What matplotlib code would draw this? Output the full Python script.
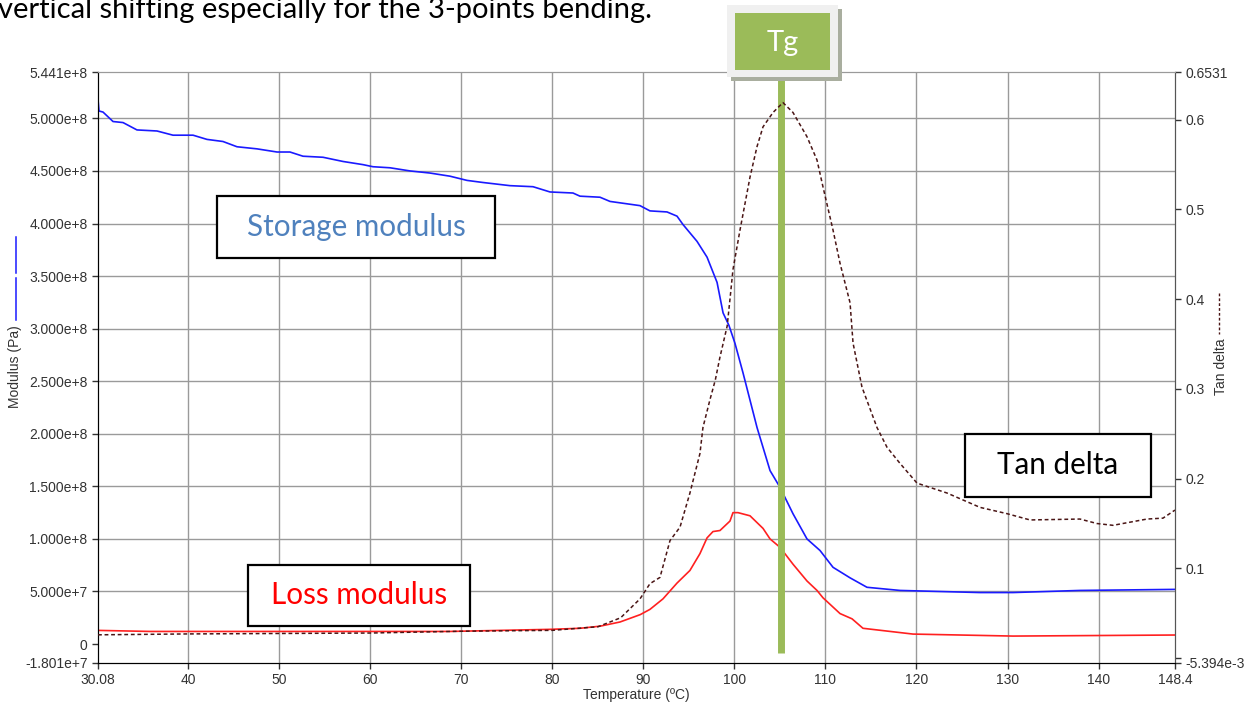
import numpy as np
import matplotlib
matplotlib.use('Agg')
import matplotlib.pyplot as plt
from matplotlib.patches import Rectangle
from matplotlib.lines import Line2D
from matplotlib.ticker import FixedLocator, FixedFormatter

#%% Data

# storage modulus (blue), 1e8 Pa
temp_storage = [30.08, 30.19, 30.63, 31.73, 32.83, 34.36, 36.56, 38.32, 40.52, 42.05,
                43.81, 45.35, 47.55, 49.75, 51.17, 52.60, 54.80, 57.00, 59.19, 60.29,
                62.16, 64.36, 66.55, 68.75, 70.62, 72.38, 75.34, 77.87, 79.74, 82.26,
                83.03, 85.23, 86.33, 89.62, 90.72, 92.59, 93.69, 94.35, 95.89, 96.99,
                98.09, 98.75, 99.40, 100.06, 100.94, 102.48, 103.91, 105.01, 106.43, 107.97,
                109.40, 110.83, 112.70, 114.56, 118.19, 126.98, 130.60, 137.96, 148.4]
storage = [5.18, 5.07, 5.06, 4.97, 4.96, 4.89, 4.88, 4.84, 4.84, 4.80,
           4.78, 4.73, 4.71, 4.68, 4.68, 4.64, 4.63, 4.59, 4.56, 4.54,
           4.53, 4.50, 4.48, 4.45, 4.41, 4.39, 4.36, 4.35, 4.30, 4.29,
           4.26, 4.25, 4.21, 4.17, 4.12, 4.11, 4.07, 3.99, 3.83, 3.68,
           3.44, 3.15, 3.03, 2.86, 2.58, 2.06, 1.65, 1.49, 1.24, 1.00,
           0.89, 0.73, 0.63, 0.54, 0.51, 0.49, 0.49, 0.51, 0.52]

# loss modulus (red), 1e8 Pa
temp_loss = [30.08, 35.79, 46.78, 57.76, 68.75, 74.24, 79.74, 83.03, 85.23, 87.43,
             89.65, 90.72, 92.15, 93.69, 95.11, 96.21, 96.99, 97.64, 98.41, 99.51,
             99.84, 100.39, 101.71, 103.14, 103.91, 105.01, 106.43, 107.97, 109.07, 109.73,
             111.60, 112.92, 114.12, 119.61, 130.60, 148.4]
loss = [0.13, 0.12, 0.12, 0.12, 0.12, 0.13, 0.14, 0.15, 0.17, 0.21,
        0.28, 0.33, 0.43, 0.58, 0.70, 0.86, 1.01, 1.07, 1.08, 1.17,
        1.25, 1.25, 1.22, 1.10, 1.00, 0.92, 0.76, 0.60, 0.51, 0.44,
        0.29, 0.24, 0.15, 0.095, 0.076, 0.086]

# tan delta (dashed, right axis)
temp_tan = [30.08, 40.0, 60.0, 70.0, 80.0, 85.0, 87.5, 89.62, 90.72, 91.82,
            92.92, 94.02, 95.11, 96.21, 96.54, 97.31, 97.90, 98.40, 99.20, 99.51,
            99.84, 100.61, 101.71, 102.48, 103.14, 104.24, 105.33, 106.43, 107.97, 109.07,
            109.73, 110.83, 111.60, 112.70, 113.03, 114.01, 115.66, 116.76, 118.19, 120.06,
            123.35, 126.98, 129.94, 132.47, 137.96, 139.83, 141.59, 145.32, 147.08, 148.4]
tan_delta = [0.026, 0.027, 0.028, 0.030, 0.031, 0.035, 0.045, 0.066, 0.083, 0.090,
             0.131, 0.146, 0.184, 0.228, 0.257, 0.288, 0.310, 0.335, 0.370, 0.400,
             0.433, 0.477, 0.536, 0.570, 0.592, 0.608, 0.619, 0.608, 0.581, 0.555,
             0.525, 0.477, 0.440, 0.396, 0.351, 0.302, 0.257, 0.235, 0.217, 0.195,
             0.184, 0.168, 0.161, 0.154, 0.155, 0.150, 0.148, 0.155, 0.156, 0.165]

tg = 105.1

x_ticks = [30.08, 40, 50, 60, 70, 80, 90, 100, 110, 120, 130, 140, 148.4]
left_ticks = [5.441e8, 5.0e8, 4.5e8, 4.0e8, 3.5e8, 3.0e8, 2.5e8, 2.0e8, 1.5e8, 1.0e8, 5.0e7, 0, -1.801e7]
left_labels = ['5.441e+8', '5.000e+8', '4.500e+8', '4.000e+8', '3.500e+8', '3.000e+8', '2.500e+8',
               '2.000e+8', '1.500e+8', '1.000e+8', '5.000e+7', '0', '-1.801e+7']
right_ticks = [0.6531, 0.6, 0.5, 0.4, 0.3, 0.2, 0.1, 0, -5.394e-3]
right_labels = ['0.6531', '0.6', '0.5', '0.4', '0.3', '0.2', '0.1', '', '-5.394e-3']

#%% Figure

W, H = 1250, 704
def fx(x): return x / W
def fy(y): return 1 - y / H

plt.rcParams['font.family'] = ['Liberation Sans', 'DejaVu Sans']
fig = plt.figure(figsize=(12.5, 7.04), dpi=100)
ax = fig.add_axes([fx(98), fy(663), (1175 - 98) / W, (663 - 72) / H])

ax.plot(temp_storage, np.array(storage) * 1e8, color='#1a1aff', lw=1.2, zorder=3)
ax.plot(temp_loss, np.array(loss) * 1e8, color='#ff2020', lw=1.2, zorder=3)
ax.set_xlim(30.08, 148.4)
ax.set_ylim(-1.801e7, 5.441e8)

ax2 = ax.twinx()
ax2.plot(temp_tan, tan_delta, color='#4a1515', lw=1.1, ls=(0, (2.5, 1.8)), zorder=3)
ax2.set_ylim(-5.394e-3, 0.6531)

# grid (left axis steps)
for t in x_ticks[1:-1]:
    ax.axvline(t, color='#9a9a9a', lw=1, zorder=1)
for v in left_ticks[1:-2]:
    ax.axhline(v, color='#9a9a9a', lw=1, zorder=1)

ax.xaxis.set_major_locator(FixedLocator(x_ticks))
ax.xaxis.set_major_formatter(FixedFormatter(['30.08'] + [str(t) for t in x_ticks[1:-1]] + ['148.4']))
ax.yaxis.set_major_locator(FixedLocator(left_ticks))
ax.yaxis.set_major_formatter(FixedFormatter(left_labels))
ax2.yaxis.set_major_locator(FixedLocator(right_ticks))
ax2.yaxis.set_major_formatter(FixedFormatter(right_labels))

for a in (ax, ax2):
    a.tick_params(direction='out', length=4, width=1, labelsize=10, labelcolor='#333333', color='#333333')
ax.tick_params(axis='x', pad=3)

for a in (ax, ax2):
    a.spines['top'].set_color('#9a9a9a')
    a.spines['left'].set_color('black')
    a.spines['bottom'].set_color('black')
    a.spines['right'].set_color('#555555')

ax.set_xlabel('Temperature (ºC)', fontsize=10, color='#333333', labelpad=1)

# axis titles with their line keys
fig.text(fx(15), fy(367), 'Modulus (Pa)', rotation=90, ha='center', va='center', fontsize=10, color='#333333')
fig.add_artist(Line2D([fx(16), fx(16)], [fy(237), fy(273)], color='#1a1aff', lw=1.1))
fig.add_artist(Line2D([fx(16), fx(16)], [fy(278), fy(320)], color='#1a1aff', lw=1.1))
fig.text(fx(1221), fy(367), 'Tan delta', rotation=90, ha='center', va='center', fontsize=10, color='#333333')
fig.add_artist(Line2D([fx(1219), fx(1219)], [fy(293), fy(334)], color='#4a1515', lw=1, ls=(0, (2, 1.5))))

# Tg marker
ax.plot([tg, tg], [-0.086e8, 5.441e8], color='#9bbb59', lw=5, zorder=4, clip_on=False, solid_capstyle='butt')

def box(x0, y0, x1, y1, label, color):
    fig.add_artist(Rectangle((fx(x0), fy(y1)), (x1 - x0) / W, (y1 - y0) / H,
                             facecolor='white', edgecolor='black', lw=1.6, zorder=5))
    fig.text(fx((x0 + x1) / 2), fy((y0 + y1) / 2), label, ha='center', va='center',
             fontsize=21.3, color=color, family='Lato', zorder=6)

box(217, 196, 495, 258, 'Storage modulus', '#4f81bd')
box(248, 565, 470, 626, 'Loss modulus', '#ff0000')
box(965, 434, 1151, 497, 'Tan delta', 'black')

# Tg label box with shadow
fig.add_artist(Rectangle((fx(731), fy(81)), 111 / W, 72 / H, facecolor='#a9ae9f', edgecolor='none', zorder=7))
fig.add_artist(Rectangle((fx(727), fy(77)), 111 / W, 72 / H, facecolor='#f0f0f0', edgecolor='none', zorder=8))
fig.add_artist(Rectangle((fx(735), fy(70)), 95 / W, 57 / H, facecolor='#9bbb59', edgecolor='none', zorder=9))
fig.text(fx(782.5), fy(43), 'Tg', ha='center', va='center', fontsize=21, color='white', family='Lato', zorder=10)

# page text above the chart (cut off at the top, as in the source page)
fig.text(fx(-2), fy(18), 'vertical shifting especially for the 3-points bending.', ha='left', va='baseline',
         fontsize=21, color='black', family='Lato')

fig.savefig('out.png', dpi=100)
